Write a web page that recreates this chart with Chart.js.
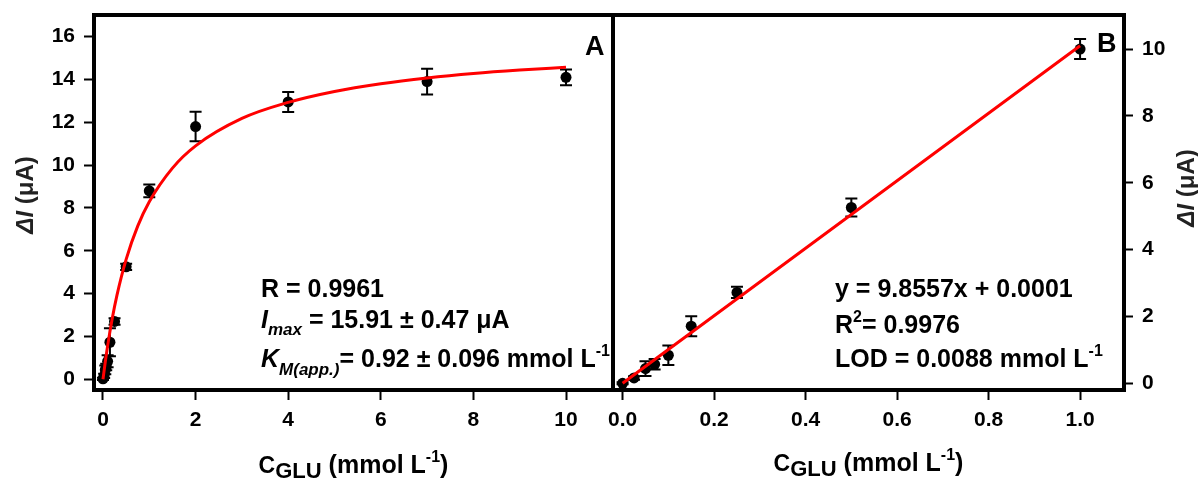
<!DOCTYPE html>
<html>
<head>
<meta charset="utf-8">
<script src="https://cdn.jsdelivr.net/npm/chart.js@4.4.1/dist/chart.umd.min.js"></script>
<style>
  html, body { margin: 0; padding: 0; background: #fff; }
  #wrap { position: relative; width: 1198px; height: 481px; overflow: hidden; }
  canvas { position: absolute; top: 0; }
  #cA { left: 0; }
  #cB { left: 600px; }
</style>
</head>
<body>
<div id="wrap">
  <canvas id="cB" width="598" height="481"></canvas>
  <canvas id="cA" width="620" height="481"></canvas>
</div>
<script>
// panel A: full range
const concA = [0, 0.025, 0.05, 0.07, 0.1, 0.15, 0.25, 0.5, 1, 2, 4, 7, 10];
const currentA = [0.02, 0.16, 0.44, 0.57, 0.84, 1.73, 2.7, 5.25, 8.8, 11.8, 12.95, 13.9, 14.1];
const errA = [0.05, 0.1, 0.2, 0.15, 0.28, 0.65, 0.15, 0.15, 0.3, 0.69, 0.47, 0.6, 0.37];
const fitXA = [0, 0.05, 0.1, 0.2, 0.3, 0.5, 0.75, 1, 1.5, 2, 3, 4, 5, 6, 7, 8, 9, 10];
const fitYA = [0, 0.82, 1.56, 2.84, 3.91, 5.6, 7.15, 8.29, 9.86, 10.9, 12.18, 12.93, 13.44, 13.8, 14.07, 14.28, 14.44, 14.57];
const ticksXA = [0, 2, 4, 6, 8, 10];
const ticksYA = [0, 2, 4, 6, 8, 10, 12, 14, 16];

// panel B: linear range
const concB = [0, 0.025, 0.05, 0.07, 0.1, 0.15, 0.25, 0.5, 1.0];
const currentB = [0.0, 0.16, 0.44, 0.57, 0.84, 1.71, 2.72, 5.26, 10.0];
const errB = [0.03, 0.05, 0.22, 0.16, 0.29, 0.3, 0.17, 0.27, 0.3];
const fitXB = [0, 1.0];
const fitYB = [0, 10.1];
const ticksXB = [0, 0.2, 0.4, 0.6, 0.8, 1.0];
const ticksYB = [0, 2, 4, 6, 8, 10];

const FONT = '"Liberation Sans", Arial, sans-serif';
const f = (size, style) => (style || 'bold') + ' ' + size + 'px ' + FONT;

function rich(ctx, x, y, parts, align) {
  let w = 0;
  parts.forEach(p => { ctx.font = p[1]; w += ctx.measureText(p[0]).width; });
  let cx = align === 'center' ? x - w / 2 : x;
  ctx.textAlign = 'left';
  parts.forEach(p => {
    ctx.font = p[1];
    ctx.fillText(p[0], cx, y + (p[2] || 0));
    cx += ctx.measureText(p[0]).width;
  });
}

function xTitle(ctx, cx, y) {
  rich(ctx, cx, y, [
    ['C', f(23), 0], ['GLU', f(22), 5], [' (mmol L', f(25), 0], ['-1', f(16), -11], [')', f(25), 0]
  ], 'center');
}

function yTitle(ctx, cx, cy) {
  ctx.save();
  ctx.translate(cx, cy);
  ctx.rotate(-Math.PI / 2);
  ctx.textBaseline = 'middle';
  ctx.fillStyle = '#222';
  rich(ctx, 0, 0, [['\u0394I', f(24, 'italic bold'), 0], [' (\u03bcA)', f(24), 0]], 'center');
  ctx.restore();
}

// error bars under the points, frame and texts on top
const deco = {
  id: 'deco',
  beforeDatasetsDraw(chart, args, opts) {
    const ctx = chart.ctx, xs = chart.scales.x, ys = chart.scales.y;
    ctx.save();
    ctx.strokeStyle = '#000';
    ctx.lineWidth = 2;
    opts.x.forEach((v, i) => {
      const px = xs.getPixelForValue(v);
      const top = ys.getPixelForValue(opts.y[i] + opts.err[i]);
      const bot = ys.getPixelForValue(opts.y[i] - opts.err[i]);
      ctx.beginPath();
      ctx.moveTo(px, top); ctx.lineTo(px, bot);
      ctx.moveTo(px - 6, top); ctx.lineTo(px + 6, top);
      ctx.moveTo(px - 6, bot); ctx.lineTo(px + 6, bot);
      ctx.stroke();
    });
    ctx.restore();
  },
  afterDraw(chart, args, opts) {
    const ctx = chart.ctx, a = chart.chartArea;
    ctx.save();
    ctx.strokeStyle = '#000';
    ctx.lineWidth = 4;
    ctx.strokeRect(a.left, a.top, a.right - a.left, a.bottom - a.top);
    ctx.fillStyle = '#000';
    ctx.textBaseline = 'alphabetic';
    opts.texts(ctx, a);
    ctx.restore();
  }
};

function axis(pos, min, max, ticks, fmt, tl, pad, size) {
  const vertical = pos === 'left' || pos === 'right';
  return {
    type: 'linear', position: pos, min: min, max: max,
    afterBuildTicks: s => { s.ticks = ticks.map(v => ({ value: v })); },
    afterFit: s => {
      if (vertical) { s.width = size; s.paddingTop = 0; s.paddingBottom = 0; }
      else { s.height = size; s.paddingLeft = 0; s.paddingRight = 0; }
    },
    grid: { display: true, drawOnChartArea: false, drawTicks: true, tickLength: tl, tickWidth: 2, tickColor: '#000' },
    border: { display: false },
    ticks: { color: '#000', font: { family: FONT, size: 21, weight: 'bold' }, padding: pad, autoSkip: false, maxRotation: 0, callback: fmt }
  };
}

function makeChart(id, cfg) {
  return new Chart(document.getElementById(id), {
    type: 'scatter',
    data: {
      datasets: [
        {
          type: 'line',
          data: cfg.fitX.map((x, i) => ({ x: x, y: cfg.fitY[i] })),
          borderColor: '#ff0000', borderWidth: 3, pointRadius: 0,
          tension: 0.4, cubicInterpolationMode: 'monotone', fill: false, order: 0
        },
        {
          data: cfg.x.map((x, i) => ({ x: x, y: cfg.y[i] })),
          pointRadius: 5.5, backgroundColor: '#000', borderColor: '#000', borderWidth: 0, order: 1
        }
      ]
    },
    options: {
      responsive: false,
      animation: false,
      layout: { padding: cfg.padding },
      plugins: {
        legend: { display: false },
        tooltip: { enabled: false },
        deco: { x: cfg.x, y: cfg.y, err: cfg.err, texts: cfg.texts }
      },
      scales: { x: cfg.xAxis, y: cfg.yAxis }
    },
    plugins: [deco]
  });
}

// Panel A
makeChart('cA', {
  x: concA, y: currentA, err: errA, fitX: fitXA, fitY: fitYA,
  padding: { top: 15, right: 7, left: 0, bottom: 0 },
  xAxis: axis('bottom', -0.194, 11.015, ticksXA, v => v, 10, 8, 91),
  yAxis: axis('left', -0.5, 17.01, ticksYA, v => v, 10, 9, 94),
  texts(ctx, a) {
    rich(ctx, 261, 297, [['R = 0.9961', f(25), 0]]);
    rich(ctx, 261, 328, [['I', f(25, 'italic bold'), 0], ['max', f(17, 'italic bold'), 7], [' = 15.91 \u00b1 0.47 \u03bcA', f(25), 0]]);
    rich(ctx, 261, 367, [['K', f(25, 'italic bold'), 0], ['M(app.)', f(17, 'italic bold'), 8], ['= 0.92 \u00b1 0.096 mmol L', f(25), 0], ['-1', f(16), -11]]);
    ctx.font = f(27);
    ctx.fillText('A', 585, 55);
    xTitle(ctx, (a.left + a.right) / 2, 473);
    yTitle(ctx, 26, 195);
  }
});

// Panel B
makeChart('cB', {
  x: concB, y: currentB, err: errB, fitX: fitXB, fitY: fitYB,
  padding: { top: 15, right: 0, left: 13, bottom: 0 },
  xAxis: axis('bottom', -0.021, 1.096, ticksXB, v => v.toFixed(1), 10, 8, 91),
  yAxis: axis('right', -0.2, 11.02, ticksYB, v => v, 9, 9, 74),
  texts(ctx, a) {
    const o = 600;
    rich(ctx, 835 - o, 297, [['y = 9.8557x + 0.0001', f(25), 0]]);
    rich(ctx, 835 - o, 333, [['R', f(25), 0], ['2', f(16), -11], ['= 0.9976', f(25), 0]]);
    rich(ctx, 835 - o, 367, [['LOD = 0.0088 mmol L', f(25), 0], ['-1', f(16), -11]]);
    ctx.font = f(27);
    ctx.fillText('B', 1097 - o, 52);
    xTitle(ctx, (a.left + a.right) / 2, 471);
    yTitle(ctx, 1187 - o, 188);
  }
});
</script>
</body>
</html>
